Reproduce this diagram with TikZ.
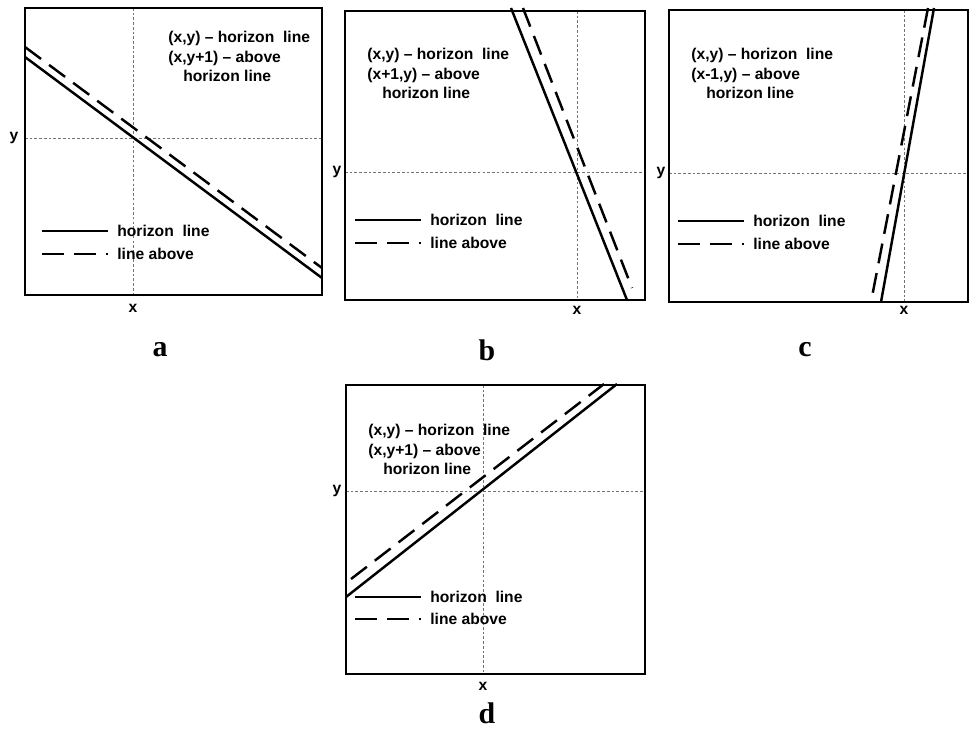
\documentclass[tikz,border=0pt]{standalone}
\usepackage{fontspec}
\setsansfont{Liberation Sans}
\setmainfont{Liberation Serif}
\usetikzlibrary{positioning}
\tikzset{
  frame/.style={draw=black, line width=1pt},
  guide/.style={draw=black!55, line width=0.4pt, dash pattern=on 1.5pt off 1.2pt},
  hline/.style={line width=1.4pt},
  aline/.style={line width=1.4pt, dash pattern=on 4mm off 2mm},
  note/.style={font=\sffamily\bfseries\fontsize{8.9}{11.1}\selectfont, align=left, inner sep=0pt, anchor=north west},
  axlbl/.style={font=\sffamily\bfseries\fontsize{8.9}{11}\selectfont, inner sep=0pt},
  leg/.style={font=\sffamily\bfseries\fontsize{8.9}{11}\selectfont, inner sep=0pt, anchor=west},
  tag/.style={font=\rmfamily\bfseries\fontsize{17}{19}\selectfont, inner sep=0pt},
}
\begin{document}
\begin{tikzpicture}[x=0.2mm, y=-0.2mm]
  \useasboundingbox (0,0) rectangle (971,728);

  % panel a
  \draw[guide] (133,8) -- (133,295);
  \draw[guide] (25,138) -- (322,138);
  \draw[frame] (25,8) rectangle (322,295);
  \draw[hline] (25,57) -- (322,278);
  \draw[aline] (25,47) -- (322,268);
  \node[note] (anote) at (168,31) {(x,y) -- horizon~ line\\(x,y+1) -- above\\\hspace*{3mm}horizon line};
  \node[leg] (aleg1) at (117,231) {horizon~ line};
  \node[leg] (aleg2) at (117,254) {line above};
  \draw[hline] (42,231) -- (108,231);
  \draw[aline, dash pattern=on 4.4mm off 2mm] (42,254) -- (108,254);
  \node[axlbl] (ay) at (14,138) {y};
  \node[axlbl] (ax) at (133,308) {x};
  \node[tag] (atag) at (160,350) {a};

  % panel b
  \draw[guide] (577,11) -- (577,300);
  \draw[guide] (345,172) -- (645,172);
  \draw[frame] (345,11) rectangle (645,300);
  \draw[hline] (511,8) -- (627,300);
  \draw[aline] (523,8) -- (632,288);
  \node[note] (bnote) at (367,48) {(x,y) -- horizon~ line\\(x+1,y) -- above\\\hspace*{3mm}horizon line};
  \node[leg] (bleg1) at (430,220) {horizon~ line};
  \node[leg] (bleg2) at (430,243) {line above};
  \draw[hline] (355,220) -- (421,220);
  \draw[aline, dash pattern=on 4.4mm off 2mm] (355,243) -- (421,243);
  \node[axlbl] (by) at (337,172) {y};
  \node[axlbl] (bx) at (577,310) {x};
  \node[tag] (btag) at (487,350) {b};

  % panel c
  \draw[guide] (904,10) -- (904,302);
  \draw[guide] (669,173) -- (968,173);
  \draw[frame] (669,10) rectangle (968,302);
  \draw[hline] (934,8) -- (881,302);
  \draw[aline] (928,8) -- (871,302);
  \node[note] (cnote) at (691,48) {(x,y) -- horizon~ line\\(x-1,y) -- above\\\hspace*{3mm}horizon line};
  \node[leg] (cleg1) at (753,221) {horizon~ line};
  \node[leg] (cleg2) at (753,244) {line above};
  \draw[hline] (678,221) -- (744,221);
  \draw[aline, dash pattern=on 4.4mm off 2mm] (678,244) -- (744,244);
  \node[axlbl] (cy) at (661,173) {y};
  \node[axlbl] (cx) at (904,310) {x};
  \node[tag] (ctag) at (805,350) {c};

  % panel d
  \draw[guide] (483,385) -- (483,674);
  \draw[guide] (346,491) -- (645,491);
  \draw[frame] (346,385) rectangle (645,674);
  \draw[hline] (346,597) -- (617,384);
  \draw[aline] (351,579) -- (604,384);
  \node[note] (dnote) at (368,424) {(x,y) -- horizon~ line\\(x,y+1) -- above\\\hspace*{3mm}horizon line};
  \node[leg] (dleg1) at (430,597) {horizon~ line};
  \node[leg] (dleg2) at (430,619) {line above};
  \draw[hline] (355,597) -- (421,597);
  \draw[aline, dash pattern=on 4.4mm off 2mm] (355,619) -- (421,619);
  \node[axlbl] (dy) at (337,491) {y};
  \node[axlbl] (dx) at (483,686) {x};
  \node[tag] (dtag) at (487,713) {d};
\end{tikzpicture}
\end{document}
